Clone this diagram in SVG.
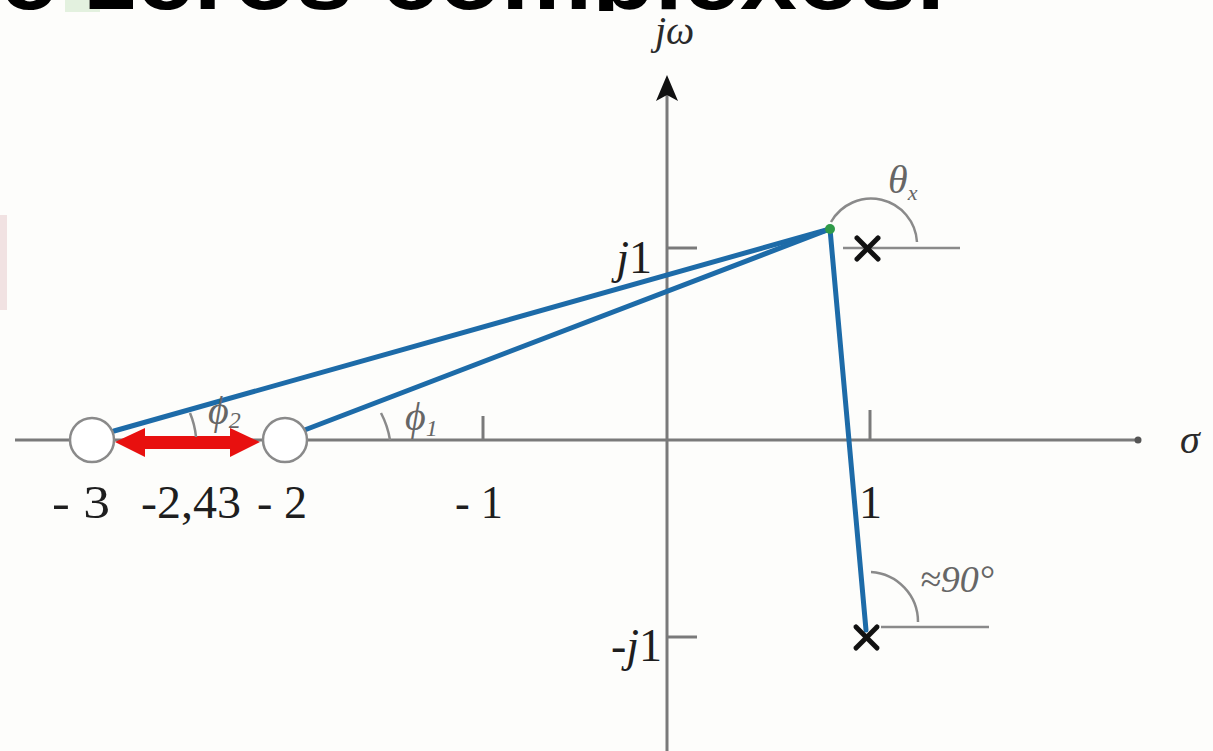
<svg xmlns="http://www.w3.org/2000/svg" width="1213" height="751" viewBox="0 0 1213 751">
<defs>
<style>
.axis{stroke:#7a7a7a;stroke-width:3;fill:none}
.thin{stroke:#8a8a8a;stroke-width:2.5;fill:none}
.vec{stroke:#1d6ba8;stroke-width:5;fill:none;stroke-linecap:round}
.pole{stroke:#111;stroke-width:5;stroke-linecap:round}
.zero{fill:#ffffff;stroke:#8a8a8a;stroke-width:2.5}
.lbl{font-family:"Liberation Serif",serif;font-size:46px;fill:#1e1e1e}
.it{font-family:"Liberation Serif",serif;font-style:italic;fill:#2a2a2a}
.ang{font-family:"Liberation Serif",serif;font-style:italic;fill:#666}
</style>
<clipPath id="topclip"><rect x="0" y="0" width="1213" height="11"/></clipPath>
</defs>
<rect width="1213" height="751" fill="#fdfdfb"/>
<rect x="65" y="0" width="35" height="12" fill="#e3f1df"/>
<rect x="0" y="215" width="7" height="95" fill="#f1e2e2"/>
<g id="title" clip-path="url(#topclip)">
<text x="0" y="9" font-family="Liberation Sans,Arial,sans-serif" font-weight="bold" font-size="92" fill="#000" textLength="945" lengthAdjust="spacingAndGlyphs">e zeros complexos.</text>
</g>
<g id="axes">
<line class="axis" x1="15" y1="440" x2="1138" y2="440"/>
<circle cx="1138" cy="440" r="3.5" fill="#555"/>
<line class="axis" x1="667" y1="95" x2="667" y2="751"/>
<polygon points="667,75 656,101 667,95 678,101" fill="#111"/>
<line class="axis" x1="667" y1="248" x2="697" y2="248"/>
<line class="axis" x1="667" y1="637" x2="697" y2="637"/>
<line class="axis" x1="483" y1="416" x2="483" y2="440"/>
<line class="axis" x1="870" y1="410" x2="870" y2="440"/>
<line class="thin" x1="843" y1="248" x2="960" y2="248"/>
<line class="thin" x1="881" y1="627" x2="989" y2="627"/>
</g>
<g id="axis-labels">
<text class="it" x="655" y="44" font-size="40">jω</text>
<text class="it" x="1180" y="453" font-size="40">σ</text>
<text class="lbl" x="652" y="273" text-anchor="end"><tspan font-style="italic">j</tspan>1</text>
<text class="lbl" x="662" y="661" text-anchor="end">-<tspan font-style="italic">j</tspan>1</text>
<text class="lbl" x="52" y="518" textLength="58" lengthAdjust="spacingAndGlyphs">- 3</text>
<text class="lbl" x="141" y="518" textLength="100" lengthAdjust="spacingAndGlyphs">-2,43</text>
<text class="lbl" x="257" y="518" textLength="50" lengthAdjust="spacingAndGlyphs">- 2</text>
<text class="lbl" x="455" y="518" textLength="48" lengthAdjust="spacingAndGlyphs">- 1</text>
<text class="lbl" x="859" y="518">1</text>
</g>
<g id="connectors">
<line class="vec" x1="830" y1="229" x2="114" y2="431"/>
<line class="vec" x1="830" y1="229" x2="302" y2="431"/>
<line class="vec" x1="830" y1="229" x2="866" y2="630"/>
<path d="M 115,442 L 145,428 L 145,436 L 230,436 L 230,428 L 260,442 L 230,457 L 230,449 L 145,449 L 145,457 Z" fill="#e8100f"/>
</g>
<g id="angles">
<path class="thin" d="M 831,222 A 46 46 0 0 1 917,242"/>
<path class="thin" d="M 871,572 A 50 50 0 0 1 918,622"/>
<path class="thin" d="M 381,413 A 88 88 0 0 1 390,440" stroke-width="2"/>
<path class="thin" d="M 190,413 A 82 82 0 0 1 196,437" stroke-width="2"/>
<text class="ang" x="888" y="193" font-size="40">θ<tspan font-size="22" dy="7">x</tspan></text>
<text class="ang" x="920" y="592" font-size="38">≈90°</text>
<text class="ang" x="405" y="430" font-size="40">ϕ<tspan font-size="24" dy="6">1</tspan></text>
<text class="ang" x="208" y="424" font-size="40">ϕ<tspan font-size="24" dy="4">2</tspan></text>
</g>
<g id="zero-3"><circle class="zero" cx="92" cy="440" r="22"/></g>
<g id="zero-2"><circle class="zero" cx="285" cy="440" r="22"/></g>
<g id="pole-upper"><line class="pole" x1="857" y1="238" x2="878" y2="259"/><line class="pole" x1="878" y1="238" x2="857" y2="259"/></g>
<g id="pole-lower"><line class="pole" x1="856" y1="627" x2="877" y2="648"/><line class="pole" x1="877" y1="627" x2="856" y2="648"/></g>
<g id="point-s"><circle cx="830" cy="229" r="5" fill="#2f9a48"/></g>
</svg>
